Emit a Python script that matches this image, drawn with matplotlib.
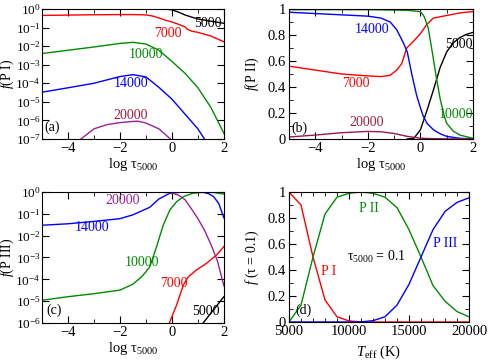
import numpy as np
import matplotlib
matplotlib.use('Agg')
import matplotlib.pyplot as plt
from matplotlib.ticker import MultipleLocator, NullLocator, FormatStrFormatter, LogLocator

plt.rcParams['font.family'] = ['Liberation Serif', 'DejaVu Serif']
plt.rcParams['mathtext.fontset'] = 'custom'
plt.rcParams['mathtext.rm'] = 'Liberation Serif'
plt.rcParams['mathtext.it'] = 'Liberation Serif:italic'
plt.rcParams['font.size'] = 10

RED = '#ff0000'
GREEN = '#008b00'
BLUE = '#0000ff'
BLACK = '#000000'
PURPLE = '#9b219b'
MAROON = '#a01c3c'
PLUM = '#9a1656'

# panel (a): f(P I) vs log tau
a_x5000 = [-5, -1, -0.5, -0.25, 0, 0.25, 0.5, 0.75, 1, 1.5, 2]
a_y5000 = [1.0, 1.0, 1.0, 0.98, 0.9, 0.68, 0.48, 0.37, 0.29, 0.22, 0.17]
a_x7000 = [-5, -4, -3, -2, -1.5, -1, -0.75, -0.5, -0.25, 0, 0.25, 0.5, 0.6, 0.75, 1, 1.5, 2]
a_y7000 = [0.45, 0.47, 0.49, 0.5, 0.5, 0.48, 0.42, 0.33, 0.25, 0.2, 0.15, 0.11, 0.08, 0.065, 0.055, 0.035, 0.017]
a_x10000 = [-5, -4, -3, -2, -1.5, -1, -0.5, 0, 0.5, 1, 1.5, 2]
a_y10000 = [4e-3, 6e-3, 9e-3, 1.4e-2, 1.6e-2, 1.3e-2, 6e-3, 1.5e-3, 3.5e-4, 5.7e-5, 5e-6, 2e-7]
a_x14000 = [-5, -4, -3, -2, -1.5, -1, -0.5, 0, 0.5, 1, 1.25]
a_y14000 = [3.3e-5, 5.7e-5, 1.0e-4, 2.3e-4, 2.9e-4, 2.2e-4, 6e-5, 1.4e-5, 2.2e-6, 3.5e-7, 1e-7]
a_x20000 = [-3.5, -3, -2.5, -2, -1.5, -1.3, -1, -0.5, -0.06]
a_y20000 = [1e-7, 3.5e-7, 5.9e-7, 7.6e-7, 8.8e-7, 9e-7, 7.2e-7, 3.5e-7, 1e-7]

# panel (b): f(P II) vs log tau
b_x5000 = [-0.5, -0.25, 0, 0.25, 0.5, 0.75, 1, 1.25, 1.5, 1.75, 2]
b_y5000 = [0, 0.005, 0.07, 0.22, 0.38, 0.55, 0.67, 0.74, 0.78, 0.805, 0.82]
b_x7000 = [-5, -4, -3, -2, -1.5, -1.15, -0.9, -0.71, -0.52, -0.27, 0, 0.24, 0.49, 1, 1.5, 2]
b_y7000 = [0.56, 0.53, 0.5, 0.485, 0.48, 0.49, 0.53, 0.58, 0.7, 0.75, 0.81, 0.88, 0.93, 0.95, 0.97, 0.98]
b_x10000 = [-5, -2, -0.5, 0, 0.15, 0.3, 0.45, 0.6, 0.75, 0.9, 1, 1.25, 1.5, 2]
b_y10000 = [0.995, 0.995, 0.99, 0.98, 0.94, 0.85, 0.67, 0.48, 0.31, 0.18, 0.12, 0.06, 0.03, 0.005]
b_x14000 = [-5, -4, -3, -2, -1.5, -1.15, -0.9, -0.65, -0.5, -0.33, -0.15, 0, 0.1, 0.25, 0.5, 0.75, 1, 1.5, 2]
b_y14000 = [0.975, 0.965, 0.955, 0.945, 0.93, 0.9, 0.84, 0.74, 0.67, 0.5, 0.34, 0.24, 0.18, 0.12, 0.07, 0.04, 0.02, 0.005, 0.0]
b_x20000 = [-5, -4, -3, -2, -1.5, -1, -0.5, 0, 0.5, 1, 2]
b_y20000 = [0.015, 0.03, 0.048, 0.058, 0.055, 0.042, 0.02, 0.006, 0.002, 0.001, 0.0]

# panel (c): f(P III) vs log tau
c_x5000 = [1.2, 1.6, 2]
c_y5000 = [1e-6, 4e-6, 1.6e-5]
c_x7000 = [-0.1, 0.18, 0.44, 0.63, 0.95, 1.33, 1.72, 2]
c_y7000 = [1e-6, 6.6e-6, 5.5e-5, 1.3e-4, 2.7e-4, 5.4e-4, 1.3e-3, 3.2e-3]
c_x10000 = [-5, -4, -3, -2, -1.5, -1.2, -1, -0.85, -0.72, -0.59, -0.46, -0.33, -0.2, -0.08, 0.18, 0.44, 0.8, 1.2, 1.6, 2]
c_y10000 = [1.1e-5, 1.6e-5, 2.2e-5, 3.2e-5, 6e-5, 1.2e-4, 2.2e-4, 3.8e-4, 1.1e-3, 3.1e-3, 0.01, 0.031, 0.07, 0.15, 0.36, 0.61, 0.87, 0.97, 0.95, 0.8]
c_x14000 = [-5, -4, -3, -2, -1.5, -1.2, -0.85, -0.5, -0.1, 0.3, 0.8, 1.2, 1.4, 1.6, 1.8, 2]
c_y14000 = [0.03, 0.035, 0.045, 0.06, 0.09, 0.13, 0.2, 0.48, 0.85, 0.97, 0.98, 0.96, 0.85, 0.62, 0.3, 0.065]
c_x20000 = [-5, -1, -0.5, 0, 0.25, 0.5, 0.75, 1, 1.25, 1.5, 1.75, 2]
c_y20000 = [1.0, 1.0, 0.99, 0.9, 0.72, 0.45, 0.17, 0.06, 0.018, 0.004, 7e-4, 5e-5]

# panel (d): fractions at tau = 0.1 vs Teff
teff = [5000, 6000, 7000, 8000, 9000, 10000, 11000, 12000, 13000, 14000, 15000, 16000, 17000, 18000, 19000, 20000]
f_pi = [1.0, 0.9, 0.5, 0.17, 0.04, 0.008, 0.001, 0, 0, 0, 0, 0, 0, 0, 0, 0]
f_pii = [0.0, 0.13, 0.5, 0.83, 0.96, 0.99, 1.0, 0.99, 0.96, 0.88, 0.71, 0.5, 0.28, 0.16, 0.08, 0.04]
f_piii = [0, 0, 0, 0, 0, 0, 0.001, 0.01, 0.04, 0.13, 0.29, 0.5, 0.71, 0.85, 0.92, 0.955]


def style(ax, ylx):
    ax.tick_params(which='both', direction='in', top=True, right=True, labelsize=10.5, pad=2)
    ax.tick_params(which='major', length=5)
    ax.tick_params(which='minor', length=3)
    ax.yaxis.set_label_coords(ylx, 0.5)


def tau_axis(ax):
    ax.set_xlim(-5, 2)
    ax.xaxis.set_major_locator(MultipleLocator(2))
    ax.xaxis.set_minor_locator(MultipleLocator(1))
    ax.set_xlabel(r'log τ$_{5000}$', fontsize=10.5, labelpad=1)


def log_axis(ax, lo):
    ax.set_yscale('log')
    ax.set_ylim(lo, 1)
    ax.yaxis.set_major_locator(LogLocator(base=10, numticks=10))
    ax.yaxis.set_minor_locator(NullLocator())
    ax.tick_params(axis='y', labelsize=9.5, pad=1)


fig = plt.figure(figsize=(4.91, 3.6), dpi=100)
axa = fig.add_axes([0.0855, 0.614, 0.3705, 0.361])
axb = fig.add_axes([0.5886, 0.614, 0.3747, 0.361])
axc = fig.add_axes([0.0855, 0.1028, 0.3705, 0.3639])
axd = fig.add_axes([0.5886, 0.1056, 0.3666, 0.3611])

lw = 1.0

# (a)
axa.plot(a_x5000, a_y5000, color=BLACK, lw=lw)
axa.plot(a_x7000, a_y7000, color=RED, lw=lw)
axa.plot(a_x10000, a_y10000, color=GREEN, lw=lw)
axa.plot(a_x14000, a_y14000, color=BLUE, lw=lw)
axa.plot(a_x20000, a_y20000, color=PURPLE, lw=lw)
tau_axis(axa)
axa.set_ylabel(r'$f$(P I)', fontsize=10)
axa.text(1.38, 0.17, '5000', color=BLACK, ha='center', va='center')
axa.text(-0.15, 0.048, '7000', color=RED, ha='center', va='center')
axa.text(-1.0, 0.0035, '10000', color=GREEN, ha='center', va='center')
axa.text(-1.58, 9.5e-5, '14000', color=BLUE, ha='center', va='center')
axa.text(-1.58, 1.8e-6, '20000', color=MAROON, ha='center', va='center')
axa.text(-4.62, 4.3e-7, '(a)', ha='center', va='center')
style(axa, -0.143)
log_axis(axa, 1e-7)

# (b)
axb.plot(b_x5000, b_y5000, color=BLACK, lw=lw)
axb.plot(b_x7000, b_y7000, color=RED, lw=lw)
axb.plot(b_x10000, b_y10000, color=GREEN, lw=lw)
axb.plot(b_x14000, b_y14000, color=BLUE, lw=lw)
axb.plot(b_x20000, b_y20000, color=PLUM, lw=lw)
axb.set_ylim(0, 1)
axb.yaxis.set_major_locator(MultipleLocator(0.2))
axb.yaxis.set_minor_locator(MultipleLocator(0.1))
axb.yaxis.set_major_formatter(FormatStrFormatter('%g'))
tau_axis(axb)
axb.set_ylabel(r'$f$(P II)', fontsize=10)
axb.text(-1.83, 0.846, '14000', color=BLUE, ha='center', va='center')
axb.text(-2.46, 0.43, '7000', color=RED, ha='center', va='center')
axb.text(1.48, 0.726, '5000', color=BLACK, ha='center', va='center')
axb.text(1.35, 0.187, '10000', color=GREEN, ha='center', va='center')
axb.text(-2.06, 0.123, '20000', color=MAROON, ha='center', va='center')
axb.text(-4.6, 0.085, '(b)', ha='center', va='center')
style(axb, -0.152)

# (c)
axc.plot(c_x5000, c_y5000, color=BLACK, lw=lw)
axc.plot(c_x7000, c_y7000, color=RED, lw=lw)
axc.plot(c_x10000, c_y10000, color=GREEN, lw=lw)
axc.plot(c_x14000, c_y14000, color=BLUE, lw=lw)
axc.plot(c_x20000, c_y20000, color=PURPLE, lw=lw)
tau_axis(axc)
axc.set_ylabel(r'$f$(P III)', fontsize=10)
axc.text(-1.91, 0.4, '20000', color=PURPLE, ha='center', va='center')
axc.text(-3.08, 0.0245, '14000', color=BLUE, ha='center', va='center')
axc.text(-1.17, 6e-4, '10000', color=GREEN, ha='center', va='center')
axc.text(0.08, 6.5e-5, '7000', color=RED, ha='center', va='center')
axc.text(1.3, 3.5e-6, '5000', color=BLACK, ha='center', va='center')
axc.text(-4.55, 3.9e-6, '(c)', ha='center', va='center')
style(axc, -0.143)
log_axis(axc, 1e-6)

# (d)
axd.plot(teff, f_pi, color=RED, lw=lw)
axd.plot(teff, f_pii, color=GREEN, lw=lw)
axd.plot(teff, f_piii, color=BLUE, lw=lw)
axd.set_xlim(5000, 20000)
axd.set_ylim(0, 1)
axd.xaxis.set_major_locator(MultipleLocator(5000))
axd.xaxis.set_minor_locator(MultipleLocator(1000))
axd.yaxis.set_major_locator(MultipleLocator(0.2))
axd.yaxis.set_minor_locator(MultipleLocator(0.1))
axd.yaxis.set_major_formatter(FormatStrFormatter('%g'))
axd.set_xlabel(r'$T_{\rm eff}$ (K)', fontsize=10.5)
axd.set_ylabel(r'$f$ (τ = 0.1)', fontsize=10)
axd.text(11640, 0.876, 'P II', color=GREEN, ha='center', va='center')
axd.text(8330, 0.387, 'P I', color=RED, ha='center', va='center')
axd.text(18030, 0.6, 'P III', color=BLUE, ha='center', va='center')
axd.text(12280, 0.5, r'τ$_{5000}$ = 0.1', ha='center', va='center')
axd.text(6170, 0.09, '(d)', ha='center', va='center')
style(axd, -0.155)
axd.xaxis.set_label_coords(0.5, -0.17)

fig.savefig('out.png', dpi=100)
